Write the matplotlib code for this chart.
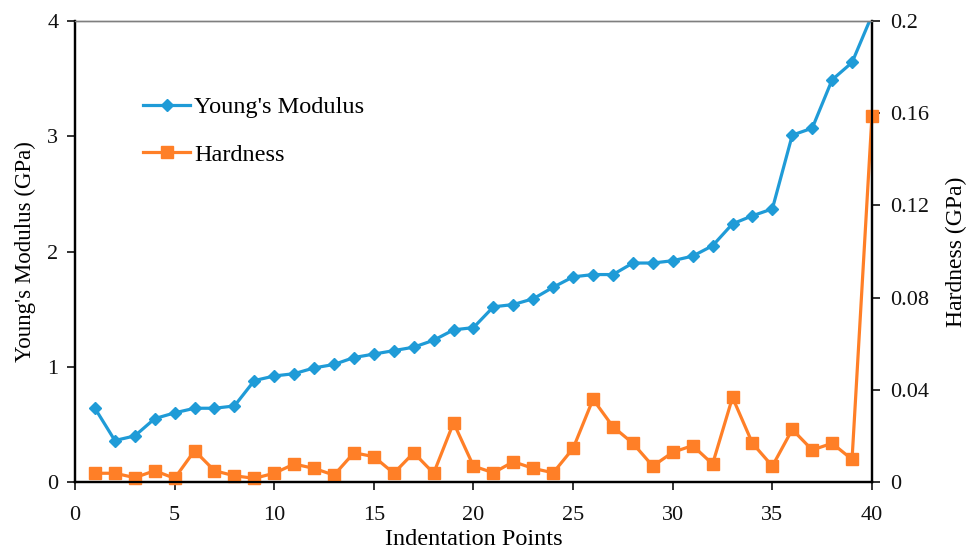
import numpy as np
import matplotlib
matplotlib.use("Agg")
import matplotlib.pyplot as plt

plt.rcParams['font.family'] = ['Liberation Serif', 'DejaVu Serif']

# indentation point index
points = list(range(1, 41))

# Young's modulus (GPa), left axis
modulus = [0.64, 0.36, 0.40, 0.55, 0.60, 0.64, 0.64, 0.66, 0.88, 0.92,
           0.94, 0.99, 1.02, 1.08, 1.11, 1.14, 1.17, 1.23, 1.32, 1.34,
           1.52, 1.54, 1.59, 1.69, 1.78, 1.80, 1.80, 1.90, 1.90, 1.92,
           1.96, 2.05, 2.24, 2.31, 2.37, 3.01, 3.07, 3.49, 3.64, 4.05]

# hardness (GPa), right axis
hardness = [0.0038, 0.0038, 0.0019, 0.0049, 0.0016, 0.0136, 0.0049, 0.0027, 0.0016, 0.0038,
            0.0078, 0.0059, 0.0030, 0.0127, 0.0110, 0.0038, 0.0127, 0.0038, 0.0257, 0.0069,
            0.0040, 0.0088, 0.0059, 0.0040, 0.0146, 0.0359, 0.0240, 0.0168, 0.0069, 0.0129,
            0.0158, 0.0078, 0.0367, 0.0168, 0.0069, 0.0228, 0.0139, 0.0168, 0.0098, 0.1590]

blue = '#1F9BD7'
orange = '#FF7F27'

fig = plt.figure(figsize=(9.68, 5.51), dpi=100)
ax = fig.add_axes([0.0775, 0.1252, 0.8233, 0.8367])
ax2 = ax.twinx()

l1, = ax.plot(points, modulus, color=blue, lw=2.3, marker='D', ms=6.5,
              label="Young's Modulus", clip_on=True)
l2, = ax2.plot(points, hardness, color=orange, lw=2.3, marker='s', ms=8.5,
               label='Hardness', clip_on=False)

ax.set_xlim(0, 40)
ax.set_ylim(0, 4)
ax2.set_ylim(0, 0.2)
ax.set_xticks(range(0, 41, 5))
ax.set_yticks(range(0, 5))
ax2.set_yticks([0, 0.04, 0.08, 0.12, 0.16, 0.2])
ax2.set_yticklabels(['0', '0.04', '0.08', '0.12', '0.16', '0.2'])

for a in (ax, ax2):
    a.tick_params(direction='out', length=6, width=1.2, labelsize=16, colors='#111111')
    for s in ('left', 'bottom', 'right'):
        a.spines[s].set_linewidth(1.6)
        a.spines[s].set_color('black')
    a.spines['top'].set_color('#7f7f7f')
    a.spines['top'].set_linewidth(1.0)
ax.tick_params(axis='x', pad=11)
ax.tick_params(axis='y', pad=6)
ax2.tick_params(axis='y', pad=7)

ax.set_xlabel('Indentation Points', fontsize=17.5, labelpad=3)
ax.set_ylabel("Young's Modulus (GPa)", fontsize=16.5, labelpad=8)
ax2.set_ylabel('Hardness (GPa)', fontsize=17, labelpad=12)

ax2.legend(handles=[l1, l2], loc='upper left', bbox_to_anchor=(0.073, 0.858),
           frameon=False, fontsize=17.5, handlelength=1.95, handletextpad=0.15,
           labelspacing=1.05, borderaxespad=0)

fig.savefig('out.png', dpi=100)
